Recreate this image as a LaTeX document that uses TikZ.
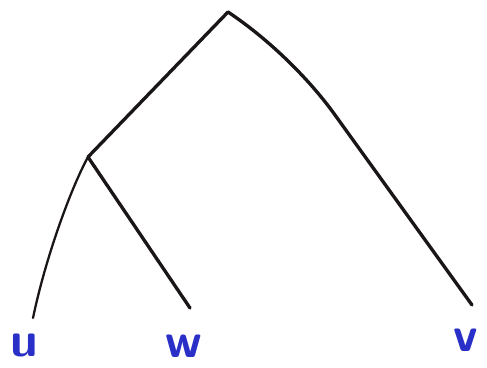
\documentclass[tikz,border=0pt]{standalone}
\usepackage{tikz}
\usetikzlibrary{calc}
\usepackage{xcolor}
\definecolor{inkblue}{HTML}{2A2FC8}
\definecolor{inkblack}{HTML}{1A1618}
\tikzset{
  branch/.style={inkblack,line width=1.9pt,line cap=round,line join=round},
  leaflabel/.style={inkblue,font=\sffamily\bfseries\fontsize{28}{28}\selectfont,inner sep=0pt}
}

\begin{document}
\begin{tikzpicture}[x=0.02cm,y=-0.02cm]
  \useasboundingbox (0,0) rectangle (487,368);
  % tree points
  \coordinate (root) at (228,12);
  \coordinate (inner) at (88,157);
  \coordinate (u) at (33,318);
  \coordinate (w) at (190,308);
  \coordinate (v) at (472,305);
  % branches
  \draw[branch] (root) -- (inner);
  \draw[branch] (root) .. controls (270,40) and (310,80) .. (335,115) -- (v);
  \draw[branch,line width=1.3pt] (inner) .. controls (70,190) and (45,260) .. (u);
  \draw[branch] (inner) -- (w);
  % leaf labels
  \node[leaflabel] (ulabel) at (24,346) {u};
  \node[leaflabel] (wlabel) at (184,346) {w};
  \node[leaflabel] (vlabel) at (466,340) {v};
\end{tikzpicture}
\end{document}
